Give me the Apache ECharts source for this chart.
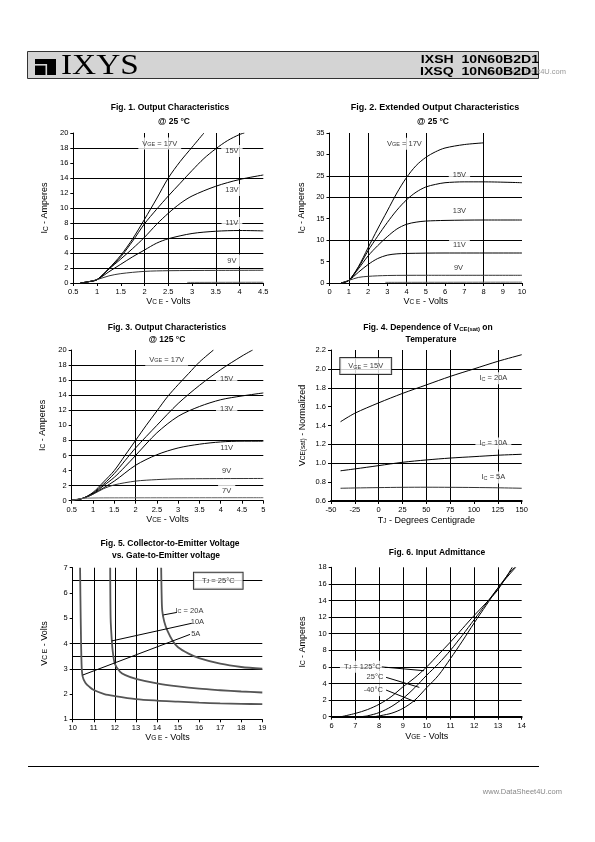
<!DOCTYPE html>
<html><head><meta charset="utf-8">
<script src="https://cdn.jsdelivr.net/npm/echarts@6/dist/echarts.min.js"></script>
<style>html,body{margin:0;padding:0;background:#fff}#c{width:595px;height:842px}</style>
</head><body><div id="c"></div>
<script>
// ---------- Fig 1: Output Characteristics @25C (VCE, IC) ----------
const fig1_vge17 = [[0.65,0],[0.8,0.15],[1.0,0.45],[1.25,1.95],[1.5,3.7],[1.75,5.9],[2.0,8.5],[2.25,11.2],[2.5,14.0],[2.75,16.2],[3.0,18.1],[3.25,20]];
const fig1_vge15 = [[0.65,0],[0.8,0.15],[1.0,0.45],[1.25,1.9],[1.5,3.5],[1.75,5.6],[2.0,7.9],[2.25,9.8],[2.5,11.6],[2.75,13.3],[3.0,15.0],[3.25,16.6],[3.5,17.9],[3.75,19.0],[4.0,19.8],[4.1,20]];
const fig1_vge13 = [[0.65,0],[0.8,0.15],[1.0,0.45],[1.25,1.85],[1.5,3.2],[1.75,4.6],[2.0,6.1],[2.25,7.8],[2.5,9.3],[2.75,10.6],[3.0,11.6],[3.5,12.9],[4.0,13.8],[4.5,14.4]];
const fig1_vge11 = [[0.65,0],[0.8,0.15],[1.0,0.45],[1.25,1.5],[1.5,2.5],[1.75,3.5],[2.0,4.4],[2.25,5.3],[2.5,5.9],[3.0,6.6],[3.5,6.9],[4.0,7.0],[4.5,6.95]];
const fig1_vge9  = [[0.65,0],[0.8,0.15],[1.0,0.45],[1.25,0.95],[1.5,1.25],[2.0,1.55],[2.5,1.64],[3.5,1.68],[4.5,1.7]];
const fig1_vge7  = [[2.9,0.08],[4.5,0.1]];
const fig1_xTicks = {min:0.5, max:4.5, interval:0.5};
const fig1_yTicks = {min:0, max:20, interval:2};

// ---------- Fig 2: Extended Output Characteristics @25C ----------
const fig2_vge17 = [[0.6,0],[1.0,0.6],[1.5,3.8],[2.0,8.2],[2.5,12.6],[3.0,16.8],[3.5,21.0],[4.0,24.6],[4.5,27.4],[5.0,29.3],[5.5,30.6],[6.0,31.5],[7.0,32.3],[8.0,32.7]];
const fig2_vge15 = [[0.6,0],[1.0,0.6],[1.5,3.6],[2.0,7.5],[2.5,10.9],[3.0,14.1],[3.5,17.0],[4.0,19.4],[4.5,21.2],[5.0,22.4],[5.5,23.0],[6.0,23.4],[7.0,23.6],[8.0,23.6],[10.0,23.4]];
const fig2_vge13 = [[0.6,0],[1.0,0.6],[1.5,3.3],[2.0,6.3],[2.5,8.7],[3.0,10.8],[3.5,12.6],[4.0,13.7],[4.5,14.2],[5.0,14.45],[6.0,14.6],[8.0,14.7],[10.0,14.7]];
const fig2_vge11 = [[0.6,0],[1.0,0.6],[1.5,2.5],[2.0,4.3],[2.5,5.7],[3.0,6.5],[3.5,6.8],[4.0,6.9],[6.0,7.0],[10.0,7.0]];
const fig2_vge9  = [[0.6,0],[1.0,0.6],[1.5,1.3],[2.0,1.55],[3.0,1.75],[5.0,1.8],[10.0,1.8]];
const fig2_vge7  = [[2.9,0.15],[10.0,0.2]];
const fig2_xTicks = {min:0, max:10, interval:1};
const fig2_yTicks = {min:0, max:35, interval:5};

// ---------- Fig 3: Output Characteristics @125C ----------
const fig3_vge17 = [[0.5,0.05],[0.75,0.3],[1.0,1.1],[1.25,2.5],[1.5,4.0],[1.75,6.0],[2.0,8.0],[2.25,10.0],[2.5,11.9],[2.75,13.8],[3.0,15.4],[3.25,16.9],[3.5,18.4],[3.83,20]];
const fig3_vge15 = [[0.5,0.05],[0.75,0.3],[1.0,1.0],[1.25,2.2],[1.5,3.6],[1.75,5.3],[2.0,7.0],[2.5,10.0],[3.0,12.9],[3.5,15.3],[4.0,17.4],[4.5,19.2],[4.75,20]];
const fig3_vge13 = [[0.5,0.05],[0.75,0.3],[1.0,0.9],[1.25,2.0],[1.5,3.1],[1.75,4.5],[2.0,6.0],[2.5,9.0],[3.0,11.2],[3.5,12.5],[4.0,13.4],[4.5,13.9],[5.0,14.3]];
const fig3_vge11 = [[0.5,0.05],[0.75,0.3],[1.0,0.9],[1.5,2.6],[2.0,4.7],[2.5,6.1],[3.0,7.0],[3.5,7.5],[4.0,7.8],[4.5,7.9],[5.0,7.9]];
const fig3_vge9  = [[0.5,0.05],[0.75,0.3],[1.0,0.85],[1.25,1.6],[1.5,2.1],[2.0,2.6],[2.5,2.8],[3.0,2.9],[5.0,2.95]];
const fig3_vge7  = [[0.5,0.05],[0.75,0.3],[1.0,0.36],[1.5,0.38],[5.0,0.4]];
const fig3_xTicks = {min:0.5, max:5, interval:0.5};
const fig3_yTicks = {min:0, max:20, interval:2};

// ---------- Fig 4: VCE(sat) vs temperature ----------
const fig4_temps = [-40,-25,0,25,50,75,100,125,150];
const fig4_ic20  = [1.44,1.53,1.64,1.74,1.83,1.92,2.0,2.08,2.15];
const fig4_ic10  = [0.92,0.94,0.975,1.01,1.035,1.055,1.07,1.085,1.095];
const fig4_ic5   = [0.735,0.738,0.742,0.745,0.746,0.745,0.743,0.74,0.735];
const fig4_xTicks = {min:-50, max:150, interval:25};
const fig4_yTicks = {min:0.6, max:2.2, interval:0.2};

// ---------- Fig 5: VCE vs VGE ----------
const fig5_ic20 = [[14.2,7],[14.22,6],[14.25,5.3],[14.35,4.85],[14.5,4.5],[14.75,4.1],[15,3.85],[15.5,3.6],[16,3.42],[17,3.2],[18,3.07],[19,3.0]];
const fig5_ic10 = [[11.78,7],[11.8,5.0],[11.85,4.2],[11.9,3.7],[12,3.2],[12.25,2.88],[12.5,2.75],[13,2.6],[14,2.42],[15,2.3],[16,2.21],[17,2.15],[18,2.1],[19,2.06]];
const fig5_ic5  = [[10.35,7],[10.38,5],[10.42,3.2],[10.47,2.7],[10.6,2.45],[10.8,2.28],[11,2.16],[11.5,2.0],[12,1.92],[13,1.8],[14,1.74],[15,1.7],[16,1.66],[17,1.63],[18,1.61],[19,1.6]];
const fig5_xTicks = {min:10, max:19, interval:1};
const fig5_yTicks = {min:1, max:7, interval:1};

// ---------- Fig 6: Input admittance ----------
const fig6_tj125 = [[6.4,0],[7,0.4],[7.5,0.85],[8,1.5],[8.5,2.4],[9,3.6],[9.5,4.7],[10,6.0],[10.5,7.5],[11,9.0],[11.5,10.6],[12,12.2],[12.5,13.7],[13,15.3],[13.6,18]];
const fig6_tj25  = [[7.2,0],[7.5,0.1],[8,0.5],[8.5,1.2],[9,2.2],[9.5,3.5],[10,5.0],[10.5,6.4],[11,8.0],[11.5,9.8],[12,11.7],[12.5,13.6],[13,15.5],[13.5,17.2],[13.75,18]];
const fig6_tjm40 = [[7.8,0],[8.5,0.4],[9,1.0],[9.5,2.0],[10,3.5],[10.5,5.0],[11,7.0],[11.5,9.1],[12,11.3],[12.5,13.4],[13,15.5],[13.5,17.4],[13.7,18]];
const fig6_xTicks = {min:6, max:14, interval:1};
const fig6_yTicks = {min:0, max:18, interval:2};

// ================= rendering =================
const FONT = '"Liberation Sans", Arial, Helvetica, sans-serif';
const SUB = {fontSize:5.5, fontFamily:FONT, color:'#000', verticalAlign:'bottom'};
const NAME_SUB = {fontSize:6.5, fontFamily:FONT, color:'#000', verticalAlign:'bottom'};

const grids = [
  {left:73.3, top:133, width:190, height:150},
  {left:329.5, top:133, width:192.5, height:150},
  {left:71.7, top:350, width:191.6, height:150.7},
  {left:331, top:350, width:190.7, height:151},
  {left:72.7, top:567.7, width:189.6, height:151.6},
  {left:331.7, top:567.3, width:190, height:149.4}
].map(g => Object.assign({containLabel:false, outerBoundsMode:'none', show:false}, g));

function axisBase(gi, t, name, gap, extra) {
  return Object.assign({
    gridIndex: gi, type: 'value', min: t.min, max: t.max, interval: t.interval,
    name: name, nameLocation: 'middle', nameGap: gap,
    nameTextStyle: {fontSize: 9, fontFamily: FONT, color: '#000', rich: {s: NAME_SUB}},
    axisLine: {show: true, onZero: false, lineStyle: {color: '#000', width: 1}},
    axisTick: {show: true, length: 3, inside: false, lineStyle: {color: '#000', width: 1}},
    axisLabel: {fontSize: 7.5, fontFamily: FONT, color: '#000', margin: 5, showMinLabel: true, showMaxLabel: true, hideOverlap: false},
    splitLine: {show: false}
  }, extra || {});
}
const fmt1 = v => (Math.round(v * 10) / 10).toFixed(1);

const xAxes = [
  axisBase(0, fig1_xTicks, 'V{s|C E} - Volts', 14),
  axisBase(1, fig2_xTicks, 'V{s|C E} - Volts', 14),
  axisBase(2, fig3_xTicks, 'V{s|CE} - Volts', 14),
  axisBase(3, fig4_xTicks, 'T{s|J} - Degrees Centigrade', 15, {axisLine:{show:true,onZero:false,lineStyle:{color:'#000',width:2}}}),
  axisBase(4, fig5_xTicks, 'V{s|G E} - Volts', 13),
  axisBase(5, fig6_xTicks, 'V{s|GE} - Volts', 15, {axisLine:{show:true,onZero:false,lineStyle:{color:'#000',width:2}}})
];
const yAxes = [
  axisBase(0, fig1_yTicks, 'I{s|C} - Amperes', 24),
  axisBase(1, fig2_yTicks, 'I{s|C} - Amperes', 23),
  axisBase(2, fig3_yTicks, 'I{s|C} - Amperes', 25),
  axisBase(3, fig4_yTicks, 'V{s|CE(sat)} - Normalized', 24),
  axisBase(4, fig5_yTicks, 'V{s|C E} - Volts', 24),
  axisBase(5, fig6_yTicks, 'I{s|C} - Amperes', 25)
];
yAxes[3].axisLabel.formatter = fmt1;

function curve(gi, data, color, width) {
  return {type:'line', xAxisIndex:gi, yAxisIndex:gi, data:data, showSymbol:false, symbol:'none',
    smooth:0.3, lineStyle:{color:color||'#000', width:width||1}, z:6, silent:true, animation:false};
}
function gridLines(gi, xs, ys, t) {
  return {type:'line', xAxisIndex:gi, yAxisIndex:gi, data:[[t.min, yAxes[gi].min]],
    symbol:'none', showSymbol:false, lineStyle:{opacity:0}, z:1, silent:true, animation:false,
    markLine:{silent:true, z:1, symbol:['none','none'], animation:false, label:{show:false},
      lineStyle:{color:'#000', width:1, type:'solid'},
      data:[...xs.map(v=>({xAxis:v})), ...ys.map(v=>({yAxis:v}))]}};
}
function labels(gi, items, boxed) {
  return {type:'scatter', xAxisIndex:gi, yAxisIndex:gi, symbolSize:0, z:4, silent:true, animation:false,
    data: items.map(it => ({value:[it[0], it[1]], txt: it[2]})),
    label:{show:true, position:'inside', formatter: p => p.data.txt,
      fontSize:7.5, fontFamily:FONT, color:'#000', backgroundColor:'#fff',
      padding: boxed ? [4,8] : [2,4], borderColor: boxed ? '#000' : 'transparent', borderWidth: boxed ? 1 : 0,
      rich:{s:SUB}}};
}
function leader(gi, pts) {
  return {type:'line', xAxisIndex:gi, yAxisIndex:gi, data:pts, showSymbol:false, symbol:'none',
    lineStyle:{color:'#000', width:1}, z:7, silent:true, animation:false};
}
const zip = (xs, ys) => xs.map((x, i) => [x, ys[i]]);

const series = [
  // Fig 1
  gridLines(0, [2, 2.5, 3.5, 4], [2, 4, 6, 8, 10, 14, 18], fig1_xTicks),
  labels(0, [[2.32,18.6,'V{s|GE} = 17V'],[3.84,17.6,'15V'],[3.84,12.4,'13V'],[3.84,8.0,'11V'],[3.84,3.0,'9V']]),
  curve(0, fig1_vge17), curve(0, fig1_vge15), curve(0, fig1_vge13), curve(0, fig1_vge11), curve(0, fig1_vge9, '#333'), curve(0, fig1_vge7, '#666'),
  // Fig 2
  gridLines(1, [1, 2, 4, 5, 8], [10, 20, 25], fig2_xTicks),
  labels(1, [[3.89,32.5,'V{s|GE} = 17V'],[6.75,25.2,'15V'],[6.75,16.9,'13V'],[6.75,8.9,'11V'],[6.7,3.5,'9V']]),
  curve(1, fig2_vge17), curve(1, fig2_vge15), curve(1, fig2_vge13), curve(1, fig2_vge11), curve(1, fig2_vge9, '#333'), curve(1, fig2_vge7, '#666'),
  // Fig 3
  gridLines(2, [2], [2, 6, 8, 12, 14, 16, 18], fig3_xTicks),
  labels(2, [[2.73,18.7,'V{s|GE} = 17V'],[4.14,16.2,'15V'],[4.14,12.2,'13V'],[4.14,7.0,'11V'],[4.14,3.9,'9V'],[4.14,1.3,'7V']]),
  curve(2, fig3_vge17), curve(2, fig3_vge15), curve(2, fig3_vge13), curve(2, fig3_vge11), curve(2, fig3_vge9, '#333'), curve(2, fig3_vge7, '#666'),
  // Fig 4
  gridLines(3, [-25, 0, 25, 50, 75, 125], [1.0, 1.2, 1.8, 2.0], fig4_xTicks),
  labels(3, [[120.3,1.90,'I{s|C} = 20A'],[120.3,1.21,'I{s|C} = 10A'],[120.3,0.85,'I{s|C} = 5A']]),
  labels(3, [[-13.6,2.03,'V{s|GE} = 15V']], true),
  curve(3, zip(fig4_temps, fig4_ic20)), curve(3, zip(fig4_temps, fig4_ic10)), curve(3, zip(fig4_temps, fig4_ic5), '#333'),
  // Fig 5
  gridLines(4, [11, 12, 13, 14], [3, 3.5, 4, 6.5], fig5_xTicks),
  labels(4, [[15.54,5.30,'I{s|C} = 20A'],[15.92,4.84,'10A'],[15.84,4.37,'5A']]),
  labels(4, [[16.91,6.48,'T{s|J} = 25°C']], true),
  leader(4, [[14.3,5.13],[14.94,5.23]]), leader(4, [[11.85,4.1],[15.65,4.8]]), leader(4, [[10.47,2.75],[15.57,4.36]]),
  curve(4, fig5_ic20, '#555', 1.8), curve(4, fig5_ic10, '#555', 1.8), curve(4, fig5_ic5, '#555', 1.8),
  // Fig 6
  gridLines(5, [7, 8, 9, 10, 11, 12, 13], [2, 4, 6, 8, 10, 12, 14, 16], fig6_xTicks),
  labels(5, [[7.29,6.02,'T{s|J} = 125°C'],[7.82,4.78,'25°C'],[7.75,3.2,'-40°C']]),
  leader(5, [[8.11,6.0],[9.89,5.54]]), leader(5, [[8.29,4.74],[9.69,3.53]]), leader(5, [[8.29,3.21],[9.51,1.81]]),
  curve(5, fig6_tj125), curve(5, fig6_tj25), curve(5, fig6_tjm40)
];

function txt(x, y, text, size, weight, align, color, family, sx) {
  return {type:'text', x:x, y:y, scaleX: sx || 1, z:10, silent:true, style:{text:text, x:0, y:0,
    font: (weight||'normal') + ' ' + size + 'px ' + (family||FONT), fill: color||'#000',
    align: align||'center', verticalAlign:'middle',
    rich:{s:{fontSize:size*0.7, fontFamily:family||FONT, fontWeight:weight||'normal', verticalAlign:'bottom', fill:color||'#000'}}}};
}

const graphics = [
  // header box
  {type:'rect', z:5, silent:true, shape:{x:27.5, y:51.5, width:511, height:27}, style:{fill:'#d4d4d4', stroke:'#333', lineWidth:1}},
  {type:'rect', z:6, silent:true, shape:{x:35, y:59, width:21, height:16}, style:{fill:'#000'}},
  {type:'rect', z:7, silent:true, shape:{x:35, y:64, width:12, height:1.6}, style:{fill:'#d4d4d4'}},
  {type:'rect', z:7, silent:true, shape:{x:45.5, y:64, width:1.6, height:11}, style:{fill:'#d4d4d4'}},
  txt(61, 66.5, 'IXYS', 30, 'normal', 'left', '#000', '"Liberation Serif", "Times New Roman", serif', 1.11),
  txt(566, 71.5, 'www.DataSheet4U.com', 7.5, 'normal', 'right', '#999'),
  txt(539, 59.5, 'IXSH  10N60B2D1', 11, 'bold', 'right', '#000', null, 1.28),
  txt(539, 71.5, 'IXSQ  10N60B2D1', 11, 'bold', 'right', '#000', null, 1.28),
  // titles
  txt(170, 108, 'Fig. 1. Output Characteristics', 8.5, 'bold'),
  txt(174, 121.5, '@ 25 °C', 8.5, 'bold'),
  txt(435, 108, 'Fig. 2. Extended Output Characteristics', 8.5, 'bold', 'center', '#000', null, 1.06),
  txt(433, 121.5, '@ 25 °C', 8.5, 'bold'),
  txt(167, 327.5, 'Fig. 3. Output Characteristics', 8.5, 'bold'),
  txt(167, 339.5, '@ 125 °C', 8.5, 'bold'),
  txt(428, 327.5, 'Fig. 4. Dependence of V{s|CE(sat)} on', 8.5, 'bold'),
  txt(431, 339.5, 'Temperature', 8.5, 'bold'),
  txt(170, 543.5, 'Fig. 5. Collector-to-Emitter Voltage', 8.5, 'bold'),
  txt(166, 556, 'vs. Gate-to-Emitter voltage', 8.5, 'bold'),
  txt(437, 553, 'Fig. 6. Input Admittance', 8.5, 'bold'),
  // footer
  {type:'line', z:5, silent:true, shape:{x1:28, y1:766.5, x2:539, y2:766.5}, style:{stroke:'#000', lineWidth:1}},
  txt(562, 792, 'www.DataSheet4U.com', 7.5, 'normal', 'right', '#888')
];

const chart = echarts.init(document.getElementById('c'), null, {renderer:'canvas', width:595, height:842});
chart.setOption({
  animation:false,
  backgroundColor:'#fff',
  grid: grids,
  xAxis: xAxes,
  yAxis: yAxes,
  series: series,
  graphic: graphics
});
</script>
</body></html>
